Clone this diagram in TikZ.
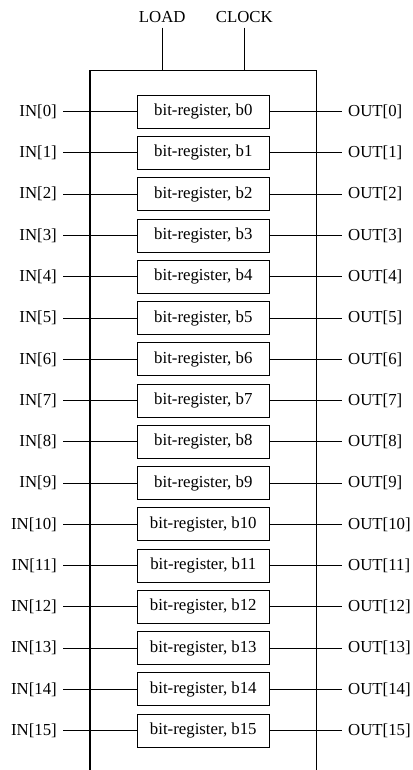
\documentclass[tikz,border=0pt]{standalone}
\usepackage{fontspec}
\setmainfont{Liberation Serif}
\usetikzlibrary{positioning}
\tikzset{
 reg/.style={draw,line width=1pt,minimum width=132pt,minimum height=33pt,inner sep=0pt},
 pin/.style={inner sep=6pt},
 wire/.style={line width=1pt}
}
\begin{document}
\begin{tikzpicture}[x=1pt,y=-1pt,font=\fontsize{16.8}{20}\selectfont]
 \useasboundingbox (0,0) rectangle (412,770);
 % outer box, open at the bottom
 \draw[line width=1.6pt] (90,770) -- (90,70.7) -- (316.6,70.7) -- (316.6,770);
 \node[inner sep=0pt] (load) at (162.3,16.7) {LOAD};
 \node[inner sep=0pt] (clock) at (244.3,16.7) {CLOCK};
 \coordinate (loadin) at (162.3,70.7);
 \coordinate (clockin) at (244.3,70.7);
 \draw[wire,shorten <=5pt] (load.south) -- (loadin);
 \draw[wire,shorten <=5pt] (clock.south) -- (clockin);
 \foreach \i in {0,...,15} {
  \pgfmathsetmacro\yy{111.7+41.27*\i}
  \node[reg] (b\i) at (203.3,\yy) {bit-register, b\i};
  \node[pin,anchor=east] (in\i) at (63,\yy) {IN[\i]};
  \node[pin,anchor=west] (out\i) at (342,\yy) {OUT[\i]};
  \draw[wire] (in\i) -- (b\i);
  \draw[wire] (b\i) -- (out\i);
 }
\end{tikzpicture}
\end{document}
